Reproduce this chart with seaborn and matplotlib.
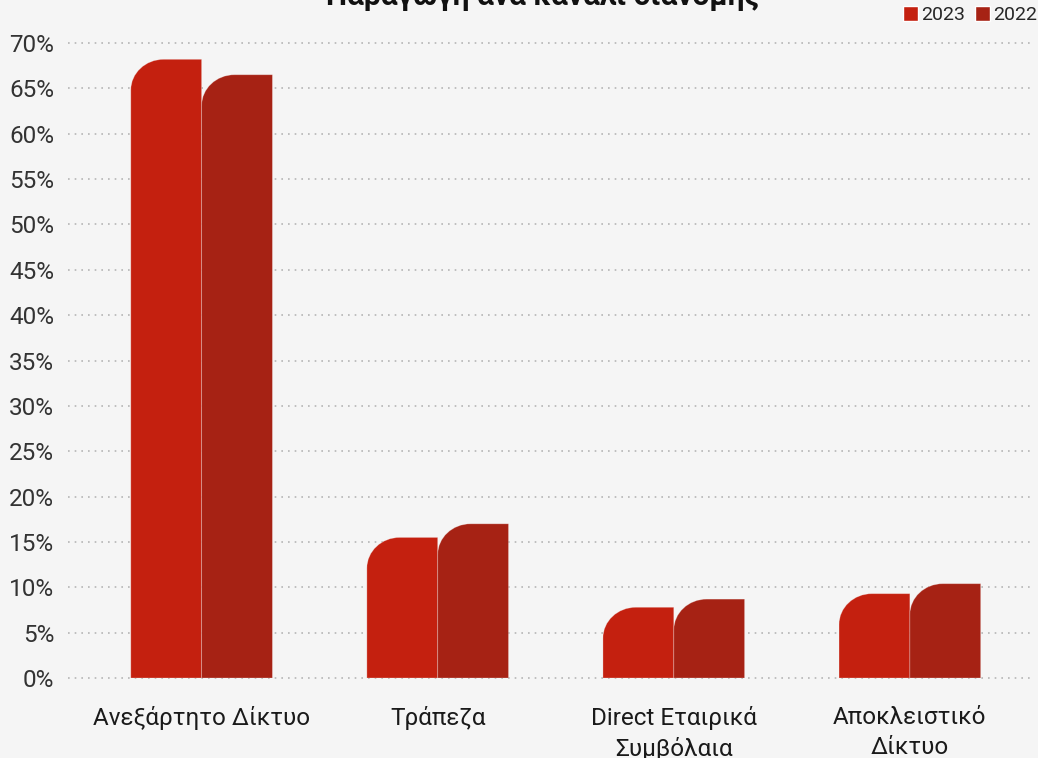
import matplotlib
matplotlib.use("Agg")
import matplotlib.pyplot as plt
import seaborn as sns
import pandas as pd
from matplotlib.path import Path
from matplotlib.patches import PathPatch, Patch

# data
channels = ["Ανεξάρτητο Δίκτυο", "Τράπεζα", "Direct Εταιρικά\nΣυμβόλαια", "Αποκλειστικό\nΔίκτυο"]
share_2023 = [68.2, 15.5, 7.8, 9.3]
share_2022 = [66.5, 17.0, 8.7, 10.4]
years = ["2023", "2022"]
colors = {"2023": "#c4200f", "2022": "#a62214"}

df = pd.DataFrame({
    "channel": channels * 2,
    "share": share_2023 + share_2022,
    "year": ["2023"] * len(channels) + ["2022"] * len(channels),
})

sns.set_theme(style="white")
plt.rcParams["font.family"] = ["Roboto", "DejaVu Sans"]

fig = plt.figure(figsize=(10.38, 7.58), dpi=100, facecolor="#f5f5f5")
ax = fig.add_axes([0.0655, 0.1055, 0.93, 0.8378])
ax.set_facecolor("#f5f5f5")

sns.barplot(data=df, x="channel", y="share", hue="year", hue_order=years,
            palette=colors, width=0.6, saturation=1, legend=False, ax=ax)

# rebuild each bar with a rounded top-left corner
rx, ry, k = 0.14, 3.4, 0.45
for cont in ax.containers:
    for rect in cont:
        x0, w, h = rect.get_x(), rect.get_width(), rect.get_height()
        r_y = min(ry, h)
        verts = [(x0, 0), (x0, h - r_y), (x0, h - r_y * k), (x0 + rx * (1 - k) * 0.8, h),
                 (x0 + rx, h), (x0 + w, h), (x0 + w, 0), (x0, 0)]
        codes = [Path.MOVETO, Path.LINETO, Path.CURVE4, Path.CURVE4, Path.CURVE4,
                 Path.LINETO, Path.LINETO, Path.CLOSEPOLY]
        ax.add_patch(PathPatch(Path(verts, codes), facecolor=rect.get_facecolor(),
                               edgecolor=(1, 1, 1, 0.3), linewidth=0.6, zorder=3))
        rect.remove()

ax.set_ylim(0, 70)
ax.set_xlim(-0.566, 3.523)
ax.set_yticks(range(0, 75, 5))
ax.set_yticklabels([f"{v}%" for v in range(0, 75, 5)])
ax.yaxis.grid(True, linestyle=(0, (1, 3)), color="#b5b5b5", linewidth=1.2, clip_on=False)
ax.set_axisbelow(True)
for s in ax.spines.values():
    s.set_visible(False)
ax.tick_params(axis="y", length=0, pad=10, labelsize=17.5, labelcolor="#333333")
ax.tick_params(axis="x", length=0, pad=20, labelsize=17.5, labelcolor="#1a1a1a")
for lbl in ax.get_xticklabels():
    lbl.set_linespacing(1.4)
ax.set_xlabel("")
ax.set_ylabel("")

fig.text(0.523, 1 - 5 / 758, "Παραγωγή ανά κανάλι διανομής", ha="center", va="baseline",
         fontsize=21.5, fontweight="bold", color="#111111")

handles = [Patch(facecolor=colors[y], label=y) for y in years]
fig.legend(handles=handles, loc="upper right", bbox_to_anchor=(1.003, 0.997), ncol=2,
           frameon=False, fontsize=14, handlelength=0.8, handleheight=0.8,
           handletextpad=0.15, columnspacing=0.5, borderaxespad=0, borderpad=0.2)

fig.savefig("out.png", dpi=100, facecolor=fig.get_facecolor())
plt.close()
